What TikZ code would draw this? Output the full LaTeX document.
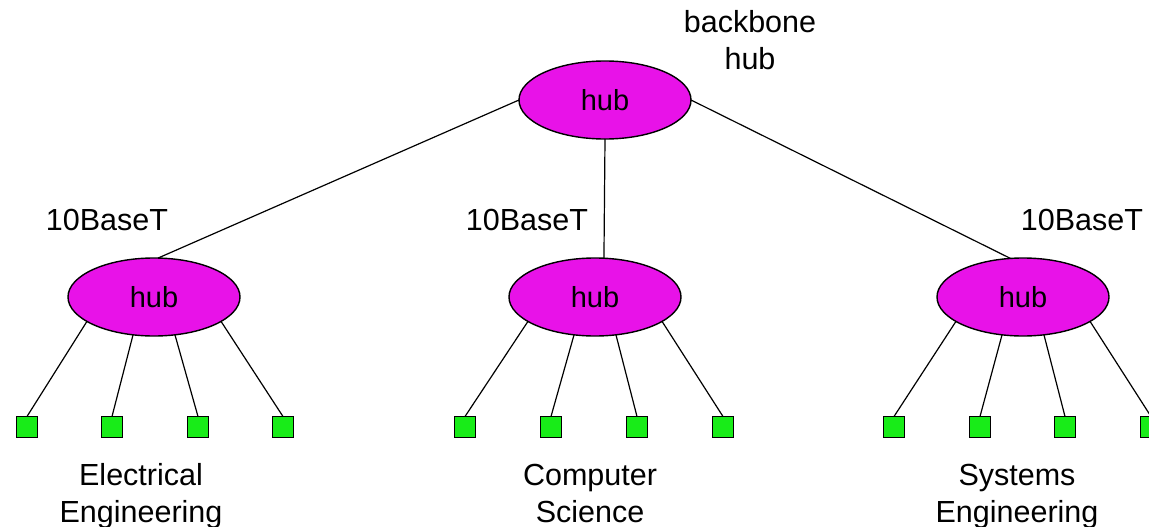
\documentclass[tikz,border=0pt]{standalone}
\usepackage{fontspec}
\setmainfont{Liberation Sans}
\usetikzlibrary{shapes.geometric}
\definecolor{hubfill}{RGB}{232,18,232}
\definecolor{pcfill}{RGB}{24,236,24}
\tikzset{
  hubnode/.style={ellipse, draw=black, line width=1.4pt, fill=hubfill,
    minimum width=172pt, minimum height=78pt, inner sep=0pt, outer sep=0pt,
    font=\fontsize{29}{35}\selectfont},
  pc/.style={rectangle, draw=black, line width=1.3pt, fill=pcfill,
    minimum size=21pt, inner sep=0pt, outer sep=0pt},
  lbl/.style={font=\fontsize{30.5}{37}\selectfont, align=center, inner sep=0pt},
  wire/.style={draw=black, line width=1.2pt}
}
\begin{document}
\begin{tikzpicture}[x=1pt,y=-1pt]
\useasboundingbox (0,0) rectangle (1149,527);
% hubs
\node[hubnode] (top) at (605,100) {hub};
\node[hubnode] (hl) at (154,297) {hub};
\node[hubnode] (hm) at (595,297) {hub};
\node[hubnode] (hr) at (1023,297) {hub};
% labels (base anchor = baseline of the last line)
\node[lbl, anchor=base] (bb) at (750,70) {backbone\\hub};
\node[lbl, anchor=base] (tl) at (107,230) {10BaseT};
\node[lbl, anchor=base] (tm) at (527,230) {10BaseT};
\node[lbl, anchor=base] (tr) at (1082,230) {10BaseT};
\node[lbl, anchor=base] (ee) at (141,522) {Electrical\\Engineering};
\node[lbl, anchor=base] (cs) at (590,522) {Computer\\Science};
\node[lbl, anchor=base] (se) at (1017,522) {Systems\\Engineering};
% backbone wires
\draw[wire] (top.180) -- (hl.84);
\draw[wire] (top.270) -- (hm.77);
\draw[wire] (top.0) -- (hr.108);
% computers
\foreach \g/\xa/\xb/\xc/\xd in {l/27/112/198/283, m/465/551/637/723, r/894/980/1065/1151}{
  \node[pc] (\g1) at (\xa,427) {};
  \node[pc] (\g2) at (\xb,427) {};
  \node[pc] (\g3) at (\xc,427) {};
  \node[pc] (\g4) at (\xd,427) {};
  \draw[wire] (h\g.200) -- (\g1.north);
  \draw[wire] (h\g.241) -- (\g2.north);
  \draw[wire] (h\g.299) -- (\g3.north);
  \draw[wire] (h\g.340) -- (\g4.north);
}
\end{tikzpicture}
\end{document}
